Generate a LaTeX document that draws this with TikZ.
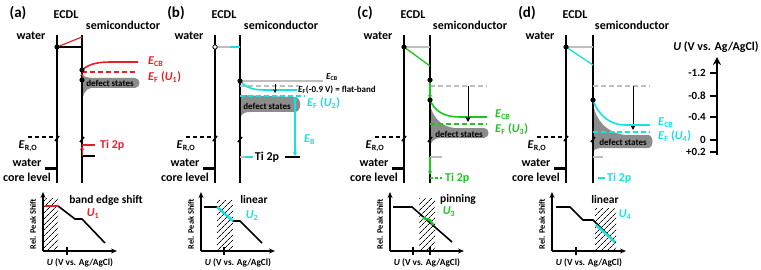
\documentclass[tikz,border=0pt]{standalone}
\usepackage{fontspec}
\setmainfont{Carlito}
\usetikzlibrary{arrows.meta,patterns.meta}
\definecolor{myred}{RGB}{237,28,36}
\definecolor{mycyan}{RGB}{20,225,225}
\definecolor{mygreen}{RGB}{25,200,25}
\definecolor{lgrey}{RGB}{190,190,190}
\definecolor{dgrey}{RGB}{140,140,140}
\newcommand\fs[1]{\fontsize{#1}{#1}\selectfont}
\tikzset{
  lbl/.style={font=\bfseries\fs{12}, inner sep=0pt},
  sm/.style={font=\bfseries\fs{9}, inner sep=0pt},
  vline/.style={line width=1.4pt},
  lev/.style={line width=1.3pt},
  hatch/.style={pattern={Lines[angle=45,distance=4pt,line width=0.7pt]}},
  axarr/.style={line width=1.3pt, -{Stealth[length=6pt,width=5pt]}},
  curve/.style={line width=1.6pt},
  sarr/.style={-{Stealth[length=4pt,width=4pt]}},
}
\newcommand\panelframe[2]{%
  \node[font=\bfseries\fs{15},inner sep=0pt] (lab#2) at (-39,13) {(#2)};
  \node[lbl] (ecdl#2) at (9,15) {ECDL};
  \node[lbl] (semi#2) at (66,25) {semiconductor};
  \node[lbl] (wat#2) at (-26,36) {water};
  \draw[vline] (0,35) -- (0,183);
  \draw[vline] (#1,35) -- (#1,183);
  \draw[lev, dashed, dash pattern=on 4pt off 3pt] (-29,137) -- (0,137);
  \node[lbl] (ero#2) at (-29,146) {\textit{E}\textsubscript{R,O}};
  \draw[line width=3pt] (-12,168) -- (0,168);
  \node[lbl] (wc#2) at (-30,163) {water};
  \node[lbl] (cl#2) at (-30,177) {core level};
  \draw[line width=1.6pt] (-2,141) -- (2,136);
  \draw[line width=1.6pt] (#1-2,142) -- (#1+2,137);
  \draw[axarr] (-14,251) -- (-14,192);
  \draw[axarr] (-14,251) -- (60,251);
  \node[font=\bfseries\fs{8.4},rotate=90,inner sep=0pt] (rps#2) at (-24,224) {Rel. Peak Shift};
  \node[font=\bfseries\fs{9.3},inner sep=0pt] (ux#2) at (23,263) {\textit{U} (V vs. Ag/AgCl)};
}
\begin{document}
\begin{tikzpicture}[x=1pt,y=-1pt]
\useasboundingbox (0,0) rectangle (761,270);
% ---------------- (a)
\begin{scope}[xshift=57pt]
  \fill[dgrey] (25,75) .. controls (30,78) and (34,78) .. (40,78) -- (78,78) .. controls (84,78) and (84,88) .. (78,88) -- (34,88) .. controls (28,89) and (26,95) .. (25,101) -- cycle;
  \node[sm] (dsa) at (53,83) {defect states};
  \fill[hatch] (-14,198) rectangle (1,251);
  \panelframe{25}{a}
  \draw[lev] (0,47) -- (25,47);
  \draw[myred, line width=1.2pt] (0,47) -- (25,37);
  \fill (0,47) circle (2.6);
  \draw[myred, curve] (25,70) .. controls (33,63) and (43,62) .. (55,62) -- (81,62);
  \draw[myred, lev, dashed, dash pattern=on 5pt off 3pt] (25,72) -- (81,72);
  \draw[myred, line width=1pt, -{Stealth[length=3pt,width=3.5pt]}] (25,80) -- (25,73);
  \fill (25,70) circle (2.6);
  \fill (25,80) circle (2.6);
  \node[lbl, myred, anchor=west] (ecba) at (91,62) {\textit{E}\textsubscript{CB}};
  \node[lbl, myred, anchor=west] (efa) at (91,77) {\textit{E}\textsubscript{F} (\textit{U}\textsubscript{1})};
  \draw[lev] (25,156) -- (38,156);
  \draw[myred, lev] (25,145) -- (38,145);
  \draw[myred, line width=1pt, sarr] (25,156) -- (25,146);
  \node[lbl, myred, anchor=west] (tia) at (43,145) {Ti 2p};
  \draw[curve] (1,206) -- (18,219) -- (25,219) -- (48,243);
  \draw[myred, line width=2.4pt] (-12,206) -- (1,206);
  \draw[line width=1.2pt] (10,247) -- (10,255);
  \node[font=\bfseries\fs{11.5},inner sep=0pt] (besa) at (49,200) {band edge shift};
  \node[lbl, myred] (u1) at (36,214) {\textit{U}\textsubscript{1}};
\end{scope}
% ---------------- (b)
\begin{scope}[xshift=215pt]
  \fill[dgrey] (25,95) -- (80,97) .. controls (87,97) and (87,112) .. (80,112) -- (35,112) .. controls (28,112) and (26,115) .. (25,119) -- cycle;
  \node[sm] (dsb) at (52,106) {defect states};
  \fill[hatch] (2,200) rectangle (18,251);
  \panelframe{25}{b}
  \draw[lgrey, lev] (0,47) -- (15,47);
  \draw[mycyan, lev] (15,47) -- (25,47);
  \draw[fill=white, line width=0.8pt] (0,47) circle (2.2);
  \draw[lgrey, line width=1.2pt] (25,81) -- (108,81);
  \node[font=\bfseries\fs{9},anchor=west,inner sep=0pt] (ecbb) at (111,77) {\textit{E}\textsubscript{CB}};
  \draw[lgrey, line width=1.2pt, dashed, dash pattern=on 5pt off 3pt] (25,86) -- (85,86);
  \draw[mycyan, curve] (25,81) .. controls (32,88) and (38,90) .. (50,90) -- (82,90);
  \draw[line width=1pt, -{Stealth[length=3.5pt,width=3.5pt]}] (60,84) -- (60,93);
  \node[font=\bfseries\fs{9},anchor=west,inner sep=0pt] (efb) at (83,90) {\textit{E}\textsubscript{F}(-0.9 V) = flat-band};
  \draw[mycyan, lev, dashed, dash pattern=on 5pt off 3pt] (25,96) -- (90,96);
  \node[lbl, mycyan, anchor=west] (efub) at (92,103) {\textit{E}\textsubscript{F} (\textit{U}\textsubscript{2})};
  \draw[mycyan, lev, {Stealth[length=4pt,width=4pt]}-{Stealth[length=4pt,width=4pt]}] (80,97) -- (80,156);
  \node[lbl, mycyan, anchor=west] (ebb) at (89,140) {\textit{E}\textsubscript{B}};
  \fill (25,81) circle (2.6);
  \draw[lgrey, lev] (25,157) -- (30,157);
  \draw[mycyan, lev] (30,157) -- (38,157);
  \node[lbl] (tib) at (52,157) {Ti 2p};
  \draw[lev] (70,157) -- (85,157);
  \draw[curve] (-11,207) -- (2,207) -- (18,221) -- (25,221) -- (47,243);
  \draw[mycyan, line width=2.4pt] (2,207) -- (18,221);
  \draw[line width=1.2pt] (9,247) -- (9,255);
  \node[font=\bfseries\fs{11.5},inner sep=0pt] (linb) at (39,200) {linear};
  \node[lbl, mycyan] (u2) at (37,216) {\textit{U}\textsubscript{2}};
\end{scope}
% ---------------- (c)
\begin{scope}[xshift=404pt]
  \fill[dgrey] (26,104) .. controls (28,115) and (35,126) .. (50,128) -- (80,128) .. controls (86,128) and (86,138) .. (80,138) -- (36,138) .. controls (30,138) and (27,142) .. (26,146) -- cycle;
  \node[sm] (dsc) at (55,134) {defect states};
  \fill[hatch] (15,198) rectangle (31,251);
  \panelframe{26}{c}
  \draw[lgrey, lev] (0,47) -- (26,47);
  \draw[mygreen, lev] (0,47) -- (26,66);
  \fill (0,47) circle (2.6);
  \draw[lgrey, line width=1.2pt, dashed, dash pattern=on 5pt off 3pt] (26,86) -- (83,86);
  \draw[mygreen, lev, sarr] (26,80) -- (26,99);
  \draw[mygreen, curve] (26,100) .. controls (31,112) and (41,117) .. (56,117) -- (83,117);
  \draw[mygreen, lev, dashed, dash pattern=on 5pt off 3pt] (26,124) -- (83,124);
  \draw[line width=1pt, -{Stealth[length=5pt,width=5pt]}] (64,86) -- (64,122);
  \fill (26,80) circle (2.6);
  \fill (26,100) circle (2.6);
  \node[lbl, mygreen, anchor=west] (ecbc) at (91,115) {\textit{E}\textsubscript{CB}};
  \node[lbl, mygreen, anchor=west] (efc) at (91,129) {\textit{E}\textsubscript{F} (\textit{U}\textsubscript{3})};
  \draw[lgrey, lev] (26,157) -- (38,157);
  \draw[mygreen, lev, sarr] (26,157) -- (26,175);
  \draw[mygreen, lev, dashed, dash pattern=on 3pt off 2pt] (26,178) -- (38,178);
  \node[lbl, mygreen, anchor=west] (tic) at (41,178) {Ti 2p};
  \draw[curve] (-11,207) -- (8,207) -- (48,242);
  \draw[mygreen, line width=2.4pt] (19,218) -- (26,220) -- (29,225);
  \draw[line width=1.2pt] (9,247) -- (9,255);
  \draw[line width=1.2pt] (26,247) -- (26,255);
  \node[font=\bfseries\fs{11.5},inner sep=0pt] (pinc) at (54,199) {pinning};
  \node[lbl, mygreen] (u3) at (45,212) {\textit{U}\textsubscript{3}};
\end{scope}
% ---------------- (d)
\begin{scope}[xshift=566pt]
  \fill[dgrey] (27,104) .. controls (30,120) and (40,133) .. (60,135) -- (82,135) .. controls (88,135) and (88,148) .. (82,148) -- (36,148) .. controls (30,148) and (28,150) .. (27,152) -- cycle;
  \node[sm] (dsd) at (57,142) {defect states};
  \fill[hatch] (29,208) rectangle (50,251);
  \panelframe{27}{d}
  \draw[lgrey, lev] (0,47) -- (27,47);
  \draw[mycyan, lev] (0,47) -- (27,65);
  \fill (0,47) circle (2.6);
  \draw[lgrey, line width=1.2pt, dashed, dash pattern=on 5pt off 3pt] (27,86) -- (84,86);
  \draw[line width=1pt, -{Stealth[length=5pt,width=5pt]}] (67,86) -- (67,130);
  \draw[mycyan, curve] (27,100) .. controls (32,115) and (44,125) .. (59,125) -- (84,125);
  \draw[mycyan, lev, dashed, dash pattern=on 5pt off 3pt] (27,132) -- (84,132);
  \fill (27,100) circle (2.6);
  \node[lbl, mycyan, anchor=west] (ecbd) at (92,123) {\textit{E}\textsubscript{CB}};
  \node[lbl, mycyan, anchor=west] (efd) at (92,136) {\textit{E}\textsubscript{F} (\textit{U}\textsubscript{4})};
  \draw[lgrey, lev] (27,157) -- (37,157);
  \draw[mycyan, lev] (32,178) -- (39,178);
  \node[lbl, mycyan, anchor=west] (tid) at (41,178) {Ti 2p};
  \draw[curve] (-10,207) -- (4,207) -- (17,220) -- (27,220) -- (49,242);
  \draw[mycyan, line width=2.4pt] (30,225) -- (49,242);
  \draw[line width=1.2pt] (10,247) -- (10,255);
  \node[font=\bfseries\fs{11.5},inner sep=0pt] (lind) at (39,200) {linear};
  \node[lbl, mycyan] (u4) at (59,215) {\textit{U}\textsubscript{4}};
\end{scope}
% ---------------- potential axis
\node[font=\bfseries\fs{12},inner sep=0pt] (uax) at (716,47) {\textit{U} (V vs. Ag/AgCl)};
\draw[line width=1.5pt, -{Stealth[length=8pt,width=8pt]}] (717,155) -- (717,57);
\foreach \y/\t in {73/-1.2, 96/-0.8, 117/-0.4, 140/0, 152/+0.2} {
  \draw[line width=1.3pt] (710,\y) -- (717,\y);
  \node[font=\bfseries\fs{11},anchor=east,inner sep=0pt] (tk\y) at (706,\y) {\t};
}
\end{tikzpicture}
\end{document}
